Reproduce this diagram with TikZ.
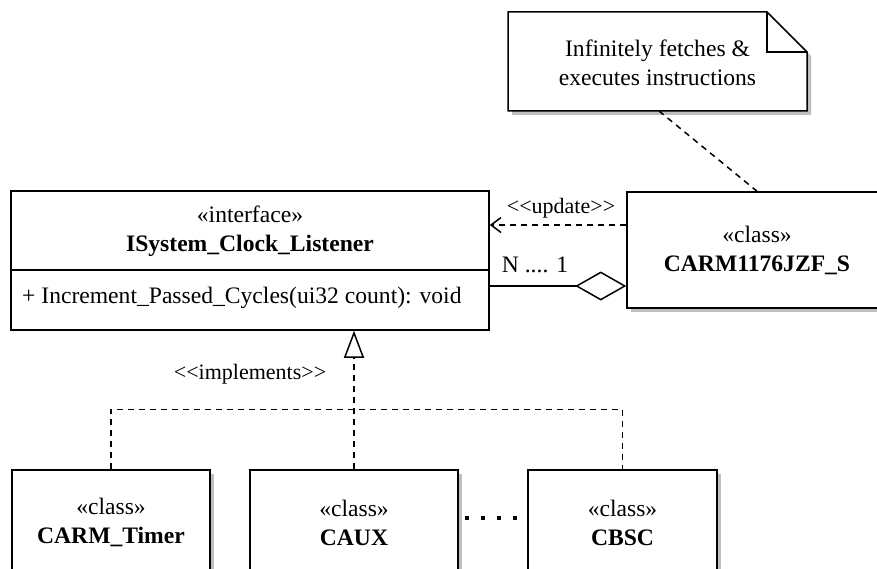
\documentclass[tikz,border=0pt]{standalone}
\usepackage{fontspec}
\setmainfont{Liberation Serif}
\usetikzlibrary{arrows.meta,shadows}
\tikzset{
  txt/.style={font=\fontsize{23.6}{29}\selectfont, inner sep=0pt, align=center},
  lbl/.style={font=\fontsize{22}{26}\selectfont, inner sep=0pt},
  box/.style={draw, line width=1.5pt, fill=white, inner sep=0pt, align=center,
    font=\fontsize{23.6}{29}\selectfont},
  shbox/.style={box, drop shadow={shadow xshift=4pt, shadow yshift=-4pt, fill=black!25, opacity=1}},
  dep/.style={line width=1.5pt, dash pattern=on 6pt off 5pt},
}
\begin{document}
\begin{tikzpicture}[x=1pt,y=-1pt]
\useasboundingbox (0,0) rectangle (877,569);
\clip (0,0) rectangle (877,569);

% note
\fill[black!25] (512,16) -- (771,16) -- (811,56) -- (811,115) -- (512,115) -- cycle;
\draw[line width=1.5pt, fill=white, line join=miter] (508,12) -- (767,12) -- (807,52) -- (807,111) -- (508,111) -- cycle;
\draw[line width=1.5pt] (767,12) -- (767,52) -- (807,52);
\node[txt] (note) at (657.5,63) {Infinitely fetches \&\\executes instructions};
\coordinate (notebot) at (659,111);

% interface
\node[box, minimum width=478pt, minimum height=139pt] (iface) at (250,260.5) {};
\draw[line width=1.5pt] (iface.west |- 0,270) -- (iface.east |- 0,270);
\node[txt] (ifacename) at (250,231) {«interface»\\\textbf{ISystem\_Clock\_Listener}};
\node[txt, anchor=west] (ifacemeth) at (22,298) {+ Increment\_Passed\_Cycles(ui32 count): void};

% CARM1176
\node[shbox, minimum width=260pt, minimum height=116pt] (carm) at (757,250) {«class»\\\textbf{CARM1176JZF\_S}};

% bottom classes
\node[shbox, minimum width=198pt, minimum height=105pt] (timer) at (111,522.5) {«class»\\\textbf{CARM\_Timer}};
\node[shbox, minimum width=208pt, minimum height=105pt] (caux) at (354,522.5) {«class»\\\textbf{CAUX}};
\node[shbox, minimum width=189pt, minimum height=105pt] (cbsc) at (622.5,522.5) {«class»\\\textbf{CBSC}};

% dots between CAUX and CBSC
\coordinate (dotsA) at (465,518);
\coordinate (dotsB) at (519,518);
\draw[line width=4pt, dash pattern=on 4pt off 12pt] (dotsA) -- (dotsB);

% connectors
\draw[dep] (notebot) -- (carm.north);
\draw[dep, -{Straight Barb[length=10pt,width=15pt,line width=1.5pt]}] (carm.west |- 0,225) -- (iface.east |- 0,225);
\node[lbl] (updlbl) at (561,208) {<{}<update>{}>};
\draw[line width=1.5pt, -{Diamond[open,length=51pt,width=29pt,line width=1.5pt]}] (iface.east |- 0,286) -- (carm.west |- 0,286);
\node[txt] (mult) at (535,265) {N .... 1};

\draw[dep] (timer.north) -- ++(0,-60) -| (cbsc.north);
\draw[dep, -{Triangle[open,length=27pt,width=20pt,line width=1.5pt,fill=white]}] (caux.north) -- (caux.north |- iface.south);
\node[lbl] (impllbl) at (250,374) {<{}<implements>{}>};
\end{tikzpicture}
\end{document}
